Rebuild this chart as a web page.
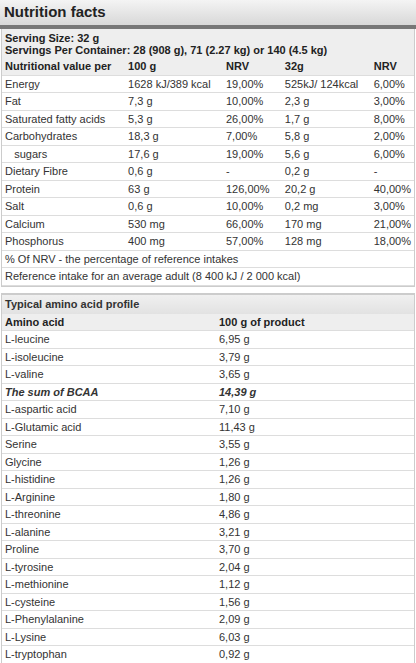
<!DOCTYPE html>
<html><head><meta charset="utf-8">
<script src="https://cdn.jsdelivr.net/npm/chart.js@4"></script>
<style>
body{margin:0;background:#fff;font-family:"Liberation Sans",Arial,sans-serif;font-size:11px;color:#333;width:416px}
.title{height:22px;background:linear-gradient(#f4f4f4,#d8d8d8);font-weight:bold;font-size:15px;color:#222;padding:3px 4px 0}
.bar{height:4px;background:#777}
.box{border:1px solid #ccc;margin:0 1px}
table{border-collapse:collapse;width:100%}
td{height:16.5px;padding:0 3px;border-bottom:1px solid #ddd;white-space:nowrap}
tr.hd td{background:#eee;font-weight:bold;color:#222}
.serv{background:#eee;font-weight:bold;padding:3px 3px 2px;line-height:12px;color:#222}
.sec{background:linear-gradient(#f0f0f0,#e2e2e2);font-weight:bold;height:16px;padding:3px 3px 0;border-top:1px solid #ccc}
</style></head><body>
<div class="title">Nutrition facts</div><div class="bar"></div>
<div class="box" style="border-top:0">
<div class="serv">Serving Size: 32 g<br>Servings Per Container: 28 (908 g), 71 (2.27 kg) or 140 (4.5 kg)</div>
<table id="t1"></table></div>
<div style="height:6px"></div>
<div class="box"><div class="sec">Typical amino acid profile</div><table id="t2"></table></div>
<script>
const nutrients = ['Energy','Fat','Saturated fatty acids','Carbohydrates','sugars','Dietary Fibre','Protein','Salt','Calcium','Phosphorus'];
const per100 = ['1628 kJ/389 kcal','7,3 g','5,3 g','18,3 g','17,6 g','0,6 g','63 g','0,6 g','530 mg','400 mg'];
const nrv100 = ['19,00%','10,00%','26,00%','7,00%','19,00%','-','126,00%','10,00%','66,00%','57,00%'];
const per32 = ['525kJ/ 124kcal','2,3 g','1,7 g','5,8 g','5,6 g','0,2 g','20,2 g','0,2 mg','170 mg','128 mg'];
const nrv32 = ['6,00%','3,00%','8,00%','2,00%','6,00%','-','40,00%','3,00%','21,00%','18,00%'];
const aminos = ['L-leucine','L-isoleucine','L-valine','The sum of BCAA','L-aspartic acid','L-Glutamic acid','Serine','Glycine','L-histidine','L-Arginine','L-threonine','L-alanine','Proline','L-tyrosine','L-methionine','L-cysteine','L-Phenylalanine','L-Lysine','L-tryptophan'];
const aminoVals = ['6,95 g','3,79 g','3,65 g','14,39 g','7,10 g','11,43 g','3,55 g','1,26 g','1,26 g','1,80 g','4,86 g','3,21 g','3,70 g','2,04 g','1,12 g','1,56 g','2,09 g','6,03 g','0,92 g'];

const w1 = ['123px','97px','58px','88px','auto'];
let h = '<tr class="hd">' + ['Nutritional value per','100 g','NRV','32g','NRV'].map((c,i)=>`<td style="width:${w1[i]}">${c}</td>`).join('') + '</tr>';
nutrients.forEach((n,i)=>{
  const lab = n==='sugars' ? '&nbsp;&nbsp;&nbsp;sugars' : n;
  h += `<tr><td>${lab}</td><td>${per100[i]}</td><td>${nrv100[i]}</td><td>${per32[i]}</td><td>${nrv32[i]}</td></tr>`;
});
h += '<tr><td colspan="5">% Of NRV - the percentage of reference intakes</td></tr>';
h += '<tr><td colspan="5">Reference intake for an average adult (8 400 kJ / 2 000 kcal)</td></tr>';
document.getElementById('t1').innerHTML = h;

let h2 = '<tr class="hd"><td style="width:208px">Amino acid</td><td>100 g of product</td></tr>';
aminos.forEach((a,i)=>{
  const st = a==='The sum of BCAA' ? ' style="font-weight:bold;font-style:italic"' : '';
  h2 += `<tr${st}><td>${a}</td><td>${aminoVals[i]}</td></tr>`;
});
document.getElementById('t2').innerHTML = h2;
</script>
</body></html>
